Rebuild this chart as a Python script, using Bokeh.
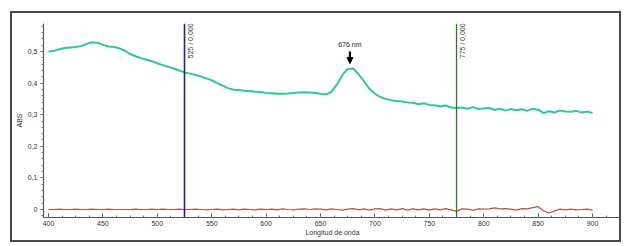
import numpy as np
from bokeh.plotting import figure
from bokeh.models import (Span, Label, Arrow, NormalHead, FixedTicker,
                          CustomJSTickFormatter, Range1d, ColumnDataSource)
from bokeh.embed import file_html
from bokeh.resources import INLINE

# ---- data ----
wavelength = list(range(400, 905, 5))

abs_sample = [
    0.500, 0.502, 0.507, 0.511, 0.513, 0.514, 0.517, 0.524, 0.529, 0.528,  # 400-445
    0.521, 0.516, 0.514, 0.510, 0.503, 0.492, 0.485, 0.479, 0.474, 0.469,  # 450-495
    0.463, 0.457, 0.452, 0.446, 0.440, 0.434, 0.430, 0.426, 0.421, 0.415,  # 500-545
    0.409, 0.400, 0.392, 0.384, 0.379, 0.378, 0.376, 0.375, 0.373, 0.372,  # 550-595
    0.369, 0.368, 0.366, 0.366, 0.367, 0.369, 0.370, 0.371, 0.370, 0.369,  # 600-645
    0.366, 0.364, 0.372, 0.395, 0.425, 0.445, 0.446, 0.428, 0.405, 0.382,  # 650-695
    0.366, 0.356, 0.350, 0.346, 0.343, 0.342, 0.339, 0.338, 0.333, 0.336,  # 700-745
    0.331, 0.330, 0.326, 0.329, 0.323, 0.321, 0.323, 0.319, 0.324, 0.318,  # 750-795
    0.320, 0.321, 0.315, 0.319, 0.313, 0.318, 0.314, 0.317, 0.312, 0.319,  # 800-845
    0.316, 0.305, 0.311, 0.307, 0.313, 0.310, 0.309, 0.312, 0.307, 0.310,  # 850-895
    0.305,                                                                  # 900
]

abs_reference = [
    0.000, 0.000, 0.001, 0.000, 0.000, 0.001, 0.000, 0.000, 0.001, 0.000,  # 400-445
    0.000, 0.001, 0.000, 0.000, 0.000, 0.000, 0.001, 0.000, 0.000, 0.001,  # 450-495
    0.000, 0.001, 0.000, 0.000, 0.001, 0.000, 0.000, 0.001, 0.000, -0.001, # 500-545
    0.000, 0.001, -0.001, 0.000, 0.001, -0.001, 0.001, 0.000, -0.001, 0.001,  # 550-595
    0.000, 0.001, -0.001, 0.002, 0.000, -0.001, 0.001, 0.002, 0.000, 0.002,   # 600-645
    0.001, -0.001, 0.002, 0.000, -0.002, 0.001, 0.003, -0.001, 0.002, -0.002, # 650-695
    0.002, 0.003, -0.002, 0.002, -0.001, 0.003, -0.002, 0.002, -0.001, 0.002, # 700-745
    -0.002, 0.002, -0.001, 0.003, -0.001, -0.006, 0.002, 0.001, -0.003, 0.002, # 750-795
    0.001, 0.002, 0.005, 0.002, 0.003, 0.001, -0.002, 0.003, 0.002, 0.006,    # 800-845
    0.009, -0.004, -0.011, -0.005, 0.001, -0.001, 0.001, -0.001, 0.000, 0.001, # 850-895
    -0.002,                                                                    # 900
]

y_ticks = [0, 0.1, 0.2, 0.3, 0.4, 0.5]
x_ticks = [400, 450, 500, 550, 600, 650, 700, 750, 800, 850, 900]

marker_blue = 525
marker_blue_text = "525 / 0,000"
marker_green = 775
marker_green_text = "775 / 0,000"
peak_x = 677
peak_text = "676 nm"

src = ColumnDataSource(dict(x=wavelength, s=abs_sample, r=abs_reference))

FONT = "Liberation Sans"

p = figure(width=611, height=231, output_backend="svg", toolbar_location=None,
           x_range=Range1d(395.4, 926.6), y_range=Range1d(-0.0253, 0.5886),
           min_border_left=29, min_border_right=2, min_border_top=10,
           min_border_bottom=27, margin=(11, 0, 0, 10),
           styles={"border": "2px solid #4a4a4a", "box-sizing": "border-box"})
p.outline_line_color = None
p.xgrid.visible = False
p.ygrid.visible = False

p.line("x", "r", source=src, line_color="#c0504d", line_width=1.2)
p.line("x", "s", source=src, line_color="#2fc79c", line_width=2)

p.add_layout(Span(location=marker_blue, dimension="height",
                  line_color="#24248c", line_width=1.6))
p.add_layout(Span(location=marker_green, dimension="height",
                  line_color="#2a7a2a", line_width=1.3))

for mx, mt in [(marker_blue, marker_blue_text), (marker_green, marker_green_text)]:
    p.add_layout(Label(x=mx, y=0.478, text=mt, angle=np.pi / 2,
                       text_align="left", text_baseline="top", x_offset=2,
                       text_font_size="7px", text_font=FONT, text_color="#333333"))

p.add_layout(Label(x=peak_x, y=0.522, text=peak_text, text_align="center",
                   text_baseline="middle", text_font_size="7px", text_font=FONT,
                   text_color="#222222"))
p.add_layout(Arrow(end=NormalHead(size=6, fill_color="black", line_color="black"),
                   x_start=peak_x, y_start=0.500, x_end=peak_x, y_end=0.462,
                   line_color="black", line_width=2.2))

# axes
p.xaxis.ticker = FixedTicker(ticks=x_ticks,
                             minor_ticks=list(np.arange(400, 930, 12.5)))
p.yaxis.ticker = FixedTicker(ticks=y_ticks,
                             minor_ticks=list(np.arange(-0.02, 0.59, 0.02)))
p.yaxis.formatter = CustomJSTickFormatter(
    code="return tick == 0 ? '0' : tick.toFixed(1).replace('.', ',');")

for ax in (p.xaxis[0], p.yaxis[0]):
    ax.axis_line_color = "#555555"
    ax.axis_line_width = 1.2
    ax.major_tick_line_color = "#555555"
    ax.minor_tick_line_color = "#777777"
    ax.major_label_text_font = FONT
    ax.major_label_text_font_size = "7px"
    ax.major_label_text_color = "#333333"
    ax.axis_label_text_font = FONT
    ax.axis_label_text_font_size = "7px"
    ax.axis_label_text_font_style = "normal"
    ax.axis_label_text_color = "#333333"

p.xaxis.axis_label = "Longitud de onda"
p.xaxis.major_tick_in = 4
p.xaxis.major_tick_out = 0
p.xaxis.minor_tick_in = 2
p.xaxis.minor_tick_out = 0
p.xaxis.major_label_standoff = 3
p.xaxis.axis_label_standoff = 0

p.yaxis.axis_label = "ABS"
p.yaxis.major_tick_in = 0
p.yaxis.major_tick_out = 3
p.yaxis.minor_tick_in = 0
p.yaxis.minor_tick_out = 2
p.yaxis.major_label_standoff = 3
p.yaxis.axis_label_standoff = 2

open("out.html", "w").write(file_html(p, INLINE))
